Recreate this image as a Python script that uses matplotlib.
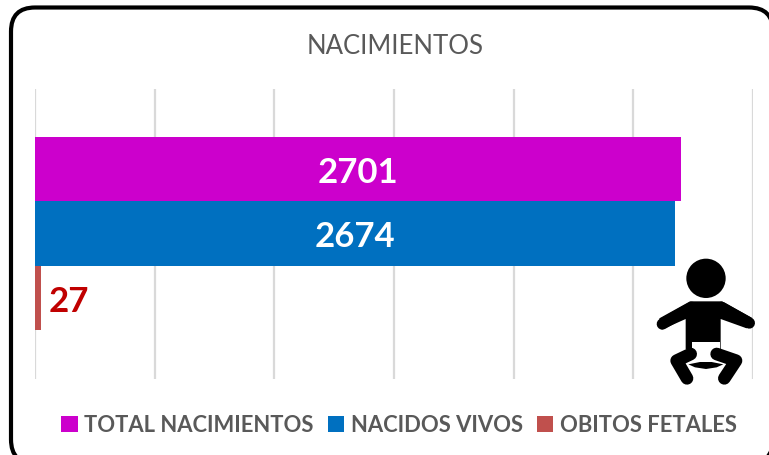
import matplotlib
matplotlib.use('Agg')
import matplotlib.pyplot as plt
from matplotlib.patches import FancyBboxPatch, Circle, Polygon

series = ['TOTAL NACIMIENTOS', 'NACIDOS VIVOS', 'OBITOS FETALES']
valores = [2701, 2674, 27]
colores = ['#CC00CC', '#0070C0', '#C0504D']
colores_texto = ['white', 'white', '#C00000']
ticks = [0, 500, 1000, 1500, 2000, 2500, 3000]

plt.rcParams['font.family'] = ['Lato', 'DejaVu Sans']
W, H = 769, 456
fig = plt.figure(figsize=(W / 100, H / 100), dpi=100)

# capa de fondo en pixeles: marco redondeado
fondo = fig.add_axes([0, 0, 1, 1], zorder=0)
fondo.set_xlim(0, W)
fondo.set_ylim(H, 0)
fondo.axis('off')
fondo.add_patch(FancyBboxPatch((11, 8.5), 762, 456, boxstyle='round,pad=0,rounding_size=24',
                               fc='white', ec='black', lw=3.0))

# grafico de barras
ax = fig.add_axes([35 / W, 1 - 379.5 / H, (753 - 35) / W, 290 / H], zorder=1)
ax.patch.set_alpha(0)
alto = 64.5 / 290
for i, (s, v, c, ct) in enumerate(zip(series, valores, colores, colores_texto)):
    y = (1 - i) * alto
    ax.barh(y, v, height=alto, color=c, label=s, zorder=3)
    if v > 100:
        ax.text(v / 2, y - 0.01, str(v), ha='center', va='center', color=ct,
                fontsize=25, fontweight='bold', zorder=4)
    else:
        ax.text(v + 28, y - 0.01, str(v), ha='left', va='center', color=ct,
                fontsize=25, fontweight='bold', zorder=4)
ax.set_xlim(ticks[0], ticks[-1])
ax.set_ylim(-0.5, 0.5)
ax.set_xticks(ticks)
ax.set_yticks([])
ax.tick_params(axis='x', length=0, labelbottom=False)
ax.grid(True, axis='x', color='#D9D9D9', lw=1.6, zorder=1)
ax.spines[:].set_visible(False)

fig.text(395 / W, 1 - 47 / H, 'NACIMIENTOS', ha='center', va='center',
         color='#595959', fontsize=18.5)
fig.legend(loc='center', bbox_to_anchor=(399 / W, 1 - 426 / H), ncol=3, frameon=False,
           prop={'weight': 'bold', 'size': 15.8}, labelcolor='#595959',
           handlelength=0.75, handleheight=0.75, handletextpad=0.3, columnspacing=0.65,
           borderpad=0, borderaxespad=0)

# icono del bebe en pixeles
ic = fig.add_axes([0, 0, 1, 1], zorder=2)
ic.set_xlim(0, W)
ic.set_ylim(H, 0)
ic.axis('off')

def z(x, y):
    # coordenadas del recorte ampliado a pixeles
    return 620 + x / 3, 240 + y / 3

def forma(puntos, color='black'):
    ic.add_patch(Polygon([z(*p) for p in puntos], fc=color, ec='none'))

def trazo(puntos, ancho):
    xs, ys = zip(*[z(*p) for p in puntos])
    ic.plot(xs, ys, color='black', lw=ancho / 3 * 0.72, solid_capstyle='round', solid_joinstyle='round')

ic.add_patch(Circle(z(258, 118), 59 / 3, fc='black', ec='none'))
# tronco y hombros
forma([(210, 187), (306, 187), (395, 236), (380, 268), (302, 240), (302, 330),
       (197, 330), (197, 240), (125, 272), (118, 238)])
trazo([(215, 205), (127, 255)], 34)
trazo([(305, 205), (388, 252)], 34)
# panal
forma([(215, 308), (301, 308), (301, 372), (215, 372)], 'white')
# banda inferior y piernas
forma([(205, 376), (240, 369), (275, 369), (310, 376), (290, 385), (258, 390), (225, 385)])
trazo([(212, 345), (170, 365), (201, 418)], 38)
trazo([(290, 345), (348, 365), (313, 418)], 38)

fig.savefig('out.png', dpi=100)
